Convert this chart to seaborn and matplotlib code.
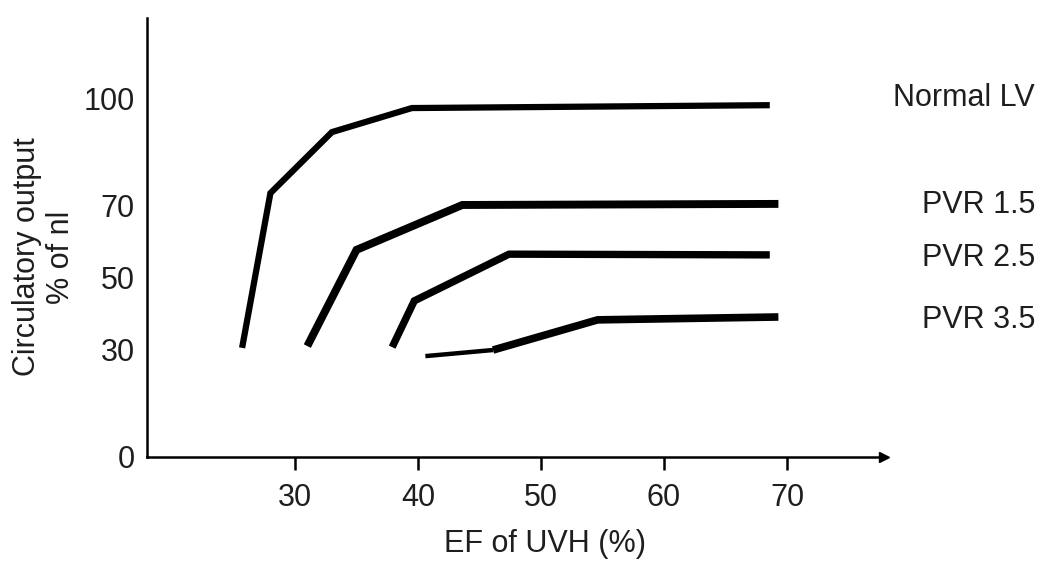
import matplotlib
matplotlib.use("Agg")
import matplotlib.pyplot as plt
import matplotlib.transforms as mtransforms
import seaborn as sns
import pandas as pd

# ---- data ----
normal_x = [25.7, 28.0, 33.0, 39.5, 68.6]
normal_y = [30.4, 73.5, 90.5, 97.2, 98.0]
pvr15_x = [31.0, 35.0, 43.6, 69.3]
pvr15_y = [30.9, 57.7, 70.2, 70.5]
pvr25_x = [37.9, 39.7, 47.4, 68.6]
pvr25_y = [30.6, 43.5, 56.5, 56.3]
pvr35_x = [40.6, 46.1, 54.6, 69.3]
pvr35_y = [28.1, 29.8, 38.2, 39.0]
series_names = ["Normal LV", "PVR 1.5", "PVR 2.5", "PVR 3.5"]
x_ticks = [30, 40, 50, 60, 70]
y_ticks = [0, 30, 50, 70, 100]
x_label = "EF of UVH (%)"
y_label = "Circulatory output\n% of nl"

sns.set_theme(style="white")
plt.rcParams["font.family"] = ["Liberation Sans", "DejaVu Sans"]
TXT = "#1e1e1e"
FS = 22

W, H = 1041, 562
fig = plt.figure(figsize=(W / 100, H / 100), dpi=100)
ax_l, ax_r, ax_t, ax_b = 147, 884, 18, 457
ax = fig.add_axes([ax_l / W, 1 - ax_b / H, (ax_r - ax_l) / W, (ax_b - ax_t) / H])

xs = [normal_x, pvr15_x, pvr25_x, pvr35_x]
ys = [normal_y, pvr15_y, pvr25_y, pvr35_y]
widths = [4.5, 5.7, 5.3, 5.5]

for name, x, y, lw in zip(series_names, xs, ys, widths):
    df = pd.DataFrame({"x": x, "y": y})
    if name == "PVR 3.5":
        # tapered start: thin first segment, thick remainder
        sns.lineplot(data=df.iloc[:2], x="x", y="y", ax=ax, color="black",
                     lw=3.2, estimator=None, sort=False,
                     solid_capstyle="butt", solid_joinstyle="miter")
        sns.lineplot(data=df.iloc[1:], x="x", y="y", ax=ax, color="black",
                     lw=lw, estimator=None, sort=False,
                     solid_capstyle="butt", solid_joinstyle="miter")
    else:
        sns.lineplot(data=df, x="x", y="y", ax=ax, color="black", lw=lw,
                     estimator=None, sort=False,
                     solid_capstyle="butt", solid_joinstyle="miter")

# series labels at right, aligned with each curve's end level
trans = mtransforms.blended_transform_factory(fig.transFigure, ax.transData)
offsets = [2.0, -0.3, -0.9, -0.8]
for name, y, off in zip(series_names, ys, offsets):
    ax.text(1035 / W, y[-1] + off, name, transform=trans, ha="right",
            va="center", fontsize=FS, color=TXT, clip_on=False)

ax.set_xlim(30 - (295 - ax_l) / 12.3, 30 + (ax_r - 295) / 12.3)
ax.set_ylim(0, (ax_b - ax_t) / 3.59)
ax.set_xticks(x_ticks)
ax.set_yticks(y_ticks)
ax.set_xticklabels([str(v) for v in x_ticks])
ax.set_yticklabels([str(v) for v in y_ticks])

for s in ["top", "right"]:
    ax.spines[s].set_visible(False)
for s in ["left", "bottom"]:
    ax.spines[s].set_color("black")
    ax.spines[s].set_linewidth(1.8)

ax.tick_params(axis="x", direction="out", length=9, width=1.8, color="black",
               pad=10, labelsize=FS, labelcolor=TXT, bottom=True)
ax.tick_params(axis="y", length=0, pad=9, labelsize=FS, labelcolor=TXT, left=True)

# arrow heads on the axes
ax.plot(1, 0, ">", color="black", ms=7, transform=ax.get_yaxis_transform(), clip_on=False)
ax.plot(0, 1, "^", color="black", ms=7, transform=ax.get_xaxis_transform(), clip_on=False)

ax.set_xlabel(x_label, fontsize=FS, color=TXT)
ax.xaxis.set_label_coords((545 - ax_l) / (ax_r - ax_l), -(529 - ax_b) / (ax_b - ax_t))
ax.set_ylabel("")
fig.text(44 / W, 1 - 257 / H, y_label, rotation=90, ha="center", va="center",
         fontsize=FS, color=TXT, multialignment="center", linespacing=1.2)

fig.savefig("out.png", dpi=100, facecolor="white")
